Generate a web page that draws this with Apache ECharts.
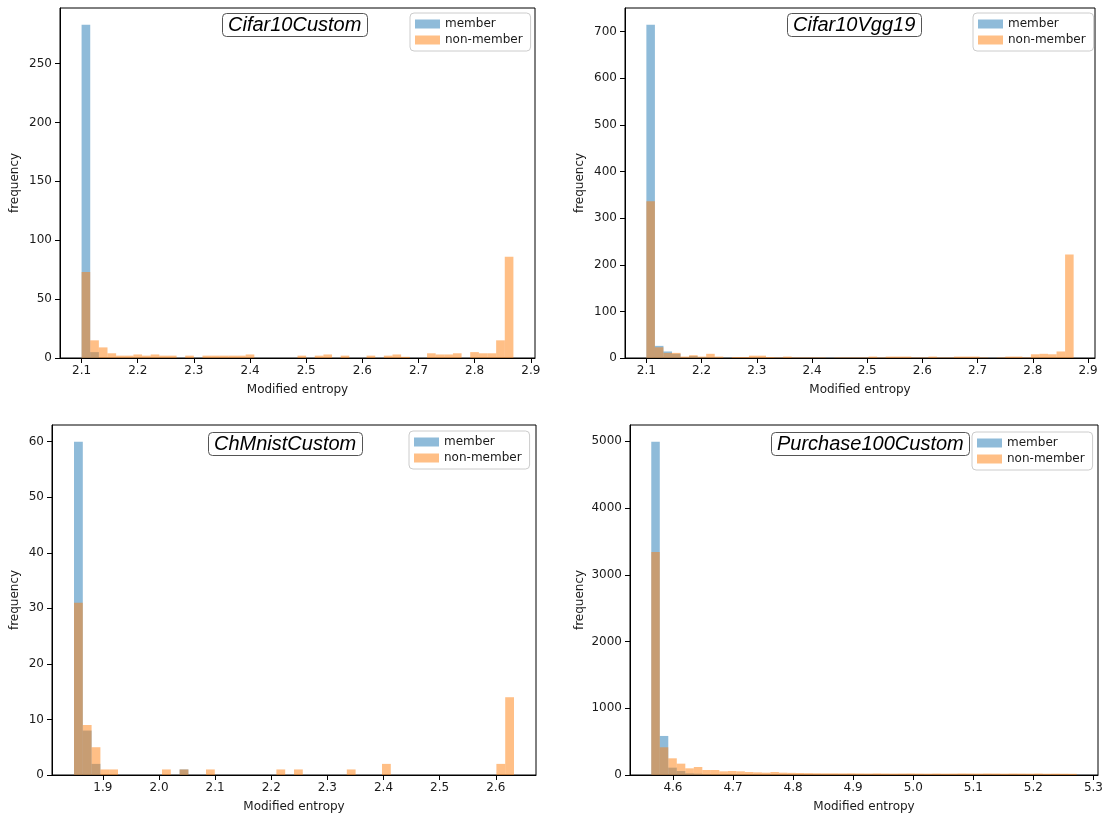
<!DOCTYPE html>
<html>
<head>
<meta charset="utf-8">
<script src="https://cdn.jsdelivr.net/npm/echarts@6/dist/echarts.min.js"></script>
<style>html,body{margin:0;padding:0;background:#fff}#c{width:1106px;height:817px}</style>
</head>
<body>
<div id="c"></div>
<script>
// ---------- data ----------
var panelTitles = ['Cifar10Custom', 'Cifar10Vgg19', 'ChMnistCustom', 'Purchase100Custom'];
var seriesNames = ['member', 'non-member'];
var xLabel = 'Modified entropy';
var yLabel = 'frequency';

// histogram ranges (first bin left edge, last bin right edge), 50 bins each
var range1 = [2.1, 2.869];
var range2 = [2.1, 2.874];
var range3 = [1.8485, 2.6325];
var range4 = [4.5639, 5.2722];

var member1 = [283,5,0,0,0,0,0,0,0,0, 0,0,0,0,0,0,0,0,0,0, 0,0,0,0,0,0,0,0,0,0, 0,0,0,0,0,0,0,0,0,0, 0,0,0,0,0,0,0,0,0,0];
var nonmember1 = [73,15,9,4,2,2,3,2,3,2, 2,0,2,0,2,2,2,2,2,3, 0,0,0,0,0,2,0,2,3,0, 2,0,0,2,0,2,3,1,0,0, 4,3,3,4,0,5,4,4,15,86];

var member2 = [715,26,14,9,1,4,2,1,1,2, 0,0,0,0,0,0,0,0,0,0, 0,0,0,0,0,0,0,0,0,0, 0,0,0,0,0,0,0,0,0,0, 0,0,0,0,0,0,0,0,0,0];
var nonmember2 = [336,23,11,11,3,6,3,9,3,1, 2,2,5,5,2,1,3,1,1,1, 1,0,1,1,1,1,3,1,3,3, 3,1,1,3,1,1,3,3,3,1, 0,1,3,3,1,8,9,8,14,222];

var member3 = [60,8,2,0,0,0,0,0,0,0, 0,0,1,0,0,0,0,0,0,0, 0,0,0,0,0,0,0,0,0,0, 0,0,0,0,0,0,0,0,0,0, 0,0,0,0,0,0,0,0,0,0];
var nonmember3 = [31,9,5,1,1,0,0,0,0,0, 1,0,1,0,0,1,0,0,0,0, 0,0,0,1,0,1,0,0,0,0, 0,1,0,0,0,2,0,0,0,0, 0,0,0,0,0,0,0,0,2,14];

var member4 = [4995,585,110,60,25,20,10,8,5,5, 4,3,3,2,2,2,1,1,1,1, 1,1,1,1,0,1,0,1,0,1, 0,1,0,0,1,0,0,1,0,0, 0,0,1,0,0,0,0,0,0,0];
var nonmember4 = [3340,415,250,170,100,120,75,75,55,60, 55,45,40,35,45,35,32,30,28,26, 25,25,24,25,23,22,24,22,21,22, 23,21,20,22,20,21,23,22,21,23, 22,20,22,21,20,22,19,20,19,18];

var xTicks1 = [2.1,2.2,2.3,2.4,2.5,2.6,2.7,2.8,2.9];
var xTicks2 = [2.1,2.2,2.3,2.4,2.5,2.6,2.7,2.8,2.9];
var xTicks3 = [1.9,2.0,2.1,2.2,2.3,2.4,2.5,2.6];
var xTicks4 = [4.6,4.7,4.8,4.9,5.0,5.1,5.2,5.3];
var yTicks1 = [0,50,100,150,200,250];
var yTicks2 = [0,100,200,300,400,500,600,700];
var yTicks3 = [0,10,20,30,40,50,60];
var yTicks4 = [0,1000,2000,3000,4000,5000];

// ---------- layout ----------
var panels = [
  {range: range1, m: member1, n: nonmember1, xt: xTicks1, yt: yTicks1, grid: {left: 60, top: 8, width: 475, height: 350}, yGap: 39, title: [222, 13], legend: [410, 13]},
  {range: range2, m: member2, n: nonmember2, xt: xTicks2, yt: yTicks2, grid: {left: 625, top: 8, width: 470, height: 350}, yGap: 39, title: [787, 13], legend: [973, 13]},
  {range: range3, m: member3, n: nonmember3, xt: xTicks3, yt: yTicks3, grid: {left: 52, top: 425, width: 484, height: 350}, yGap: 31, title: [208, 432], legend: [409, 431]},
  {range: range4, m: member4, n: nonmember4, xt: xTicks4, yt: yTicks4, grid: {left: 630, top: 425, width: 468, height: 350}, yGap: 44, title: [771, 432], legend: [972, 432]}
];

var colors = ['rgba(31,119,180,0.5)', 'rgba(255,127,14,0.5)'];
var txt = '#1a1a1a';
var font = 'DejaVu Sans';

function histData(range, counts) {
  var n = counts.length, w = (range[1] - range[0]) / n, out = [];
  for (var i = 0; i < n; i++) out.push([range[0] + i * w, range[0] + (i + 1) * w, counts[i]]);
  return out;
}

function renderBar(params, api) {
  var y = api.value(2);
  if (!y) return null;
  var p0 = api.coord([api.value(0), y]);
  var p1 = api.coord([api.value(1), 0]);
  return {type: 'rect', shape: {x: p0[0], y: p0[1], width: p1[0] - p0[0], height: p1[1] - p0[1]}, style: {fill: api.visual('color')}};
}

var option = {animation: false, grid: [], xAxis: [], yAxis: [], series: [], title: [], legend: []};

panels.forEach(function (p, i) {
  var span = p.range[1] - p.range[0];
  var ymax = Math.max(Math.max.apply(null, p.m), Math.max.apply(null, p.n)) * 1.05;
  option.grid.push({left: p.grid.left, top: p.grid.top, width: p.grid.width, height: p.grid.height, show: true, borderColor: '#000', borderWidth: 1, backgroundColor: '#fff'});
  option.xAxis.push({
    type: 'value', gridIndex: i, min: p.range[0] - 0.05 * span, max: p.range[1] + 0.05 * span,
    splitLine: {show: false},
    axisLine: {show: true, onZero: false, lineStyle: {color: '#000', width: 1}},
    axisTick: {show: true, length: 5, customValues: p.xt, lineStyle: {color: '#000'}},
    axisLabel: {customValues: p.xt, margin: 7, color: txt, fontFamily: font, fontSize: 12, formatter: function (v) { return v.toFixed(1); }},
    name: xLabel, nameLocation: 'middle', nameGap: 26, nameTextStyle: {color: txt, fontFamily: font, fontSize: 12}
  });
  option.yAxis.push({
    type: 'value', gridIndex: i, min: 0, max: ymax,
    splitLine: {show: false},
    axisLine: {show: true, lineStyle: {color: '#000', width: 1}},
    axisTick: {show: true, length: 5, customValues: p.yt, lineStyle: {color: '#000'}},
    axisLabel: {customValues: p.yt, margin: 8, color: txt, fontFamily: font, fontSize: 12, formatter: function (v) { return String(v); }},
    name: yLabel, nameLocation: 'middle', nameGap: p.yGap, nameRotate: 90, nameTextStyle: {color: txt, fontFamily: font, fontSize: 12}
  });
  [p.m, p.n].forEach(function (counts, k) {
    option.series.push({
      type: 'custom', name: seriesNames[k], xAxisIndex: i, yAxisIndex: i,
      renderItem: renderBar, encode: {x: [0, 1], y: 2},
      itemStyle: {color: colors[k]}, silent: true,
      data: histData(p.range, counts)
    });
  });
  option.title.push({
    text: panelTitles[i], left: p.title[0], top: p.title[1],
    padding: [1, 6, 1, 6], borderColor: '#555', borderWidth: 1, borderRadius: 4, backgroundColor: '#fff',
    textStyle: {fontFamily: 'Liberation Sans', fontStyle: 'italic', fontWeight: 'normal', fontSize: 20, lineHeight: 22, color: '#000'}
  });
  option.legend.push({
    data: seriesNames, left: p.legend[0], top: p.legend[1], orient: 'vertical',
    icon: 'rect', itemWidth: 25, itemHeight: 9, itemGap: 4,
    padding: [5, 8, 5, 5], borderColor: '#ccc', borderWidth: 1, borderRadius: 4,
    backgroundColor: 'rgba(255,255,255,0.85)', selectedMode: false,
    textStyle: {fontFamily: font, fontSize: 12, color: txt}
  });
});

var chart = echarts.init(document.getElementById('c'), null, {renderer: 'canvas'});
chart.setOption(option);
</script>
</body>
</html>
